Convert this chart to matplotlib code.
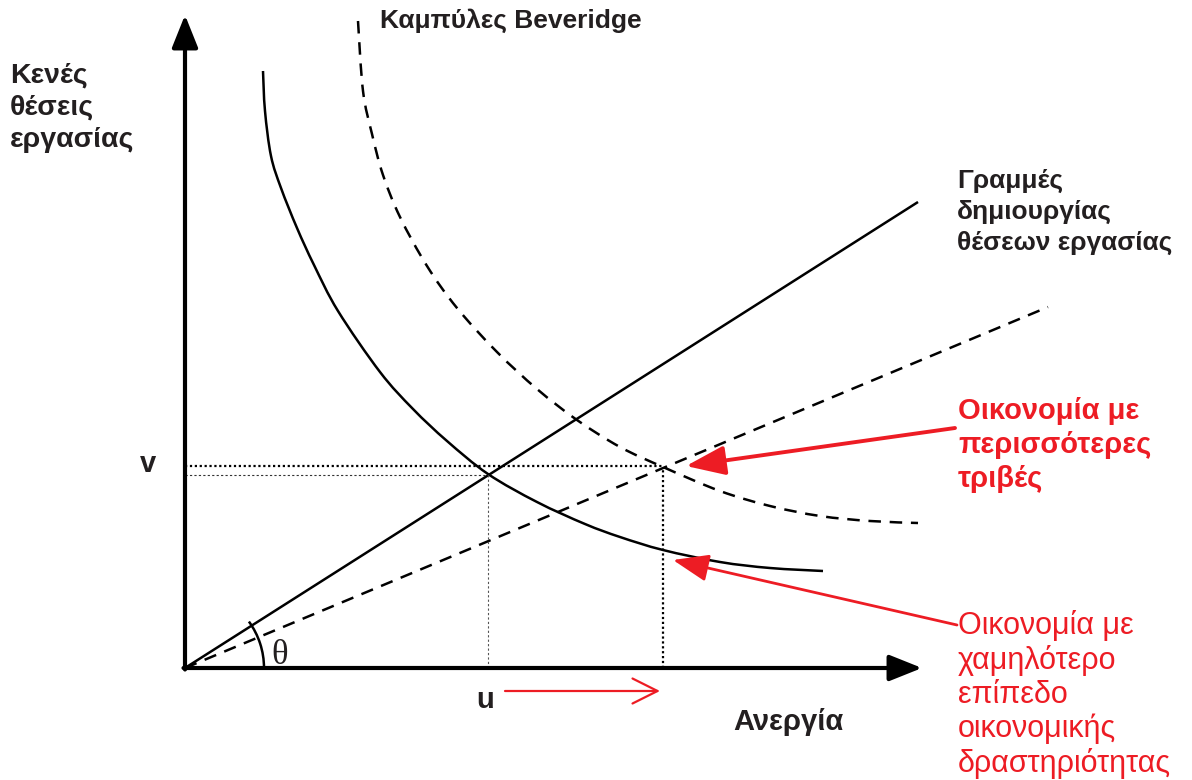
import matplotlib
matplotlib.use("Agg")
import numpy as np
import matplotlib.pyplot as plt
from matplotlib.patches import Arc, PathPatch
from matplotlib.path import Path

# Beveridge curves (unemployment u, vacancies v)
BEV_SOLID_U = [78, 80, 86, 96, 112, 129, 153, 195, 228, 262, 303, 352, 400, 435, 478, 535, 585, 638]
BEV_SOLID_V = [597, 557, 512, 480, 440, 403, 357, 296, 259, 227, 194, 166, 144, 131, 118, 106, 100, 97]

BEV_DASHED_U = [173, 178, 187, 198, 215, 242, 272, 312, 352, 392, 435, 478, 535, 585, 635, 685, 733]
BEV_DASHED_V = [647, 577, 534, 493, 451, 402, 360, 316, 279, 248, 221, 201, 177, 162, 152, 147, 145]

# job creation lines through the origin
JC_SOLID_U = [0, 733]
JC_SOLID_V = [0, 466]
JC_DASHED_U = [0, 863]
JC_DASHED_V = [0, 361]

# equilibria: (solid curve x solid line), (dashed curve x dashed line)
EQ_U = [303, 478]
EQ_V = [193, 201]

AXIS_U_END = 737
AXIS_V_END = 653

BLACK = "#231f20"
RED = "#ed1c24"


def smooth_curve(ax, us, vs, **kw):
    """Draw a smooth (Catmull-Rom) path through the given points."""
    pts = np.column_stack([us, vs]).astype(float)
    n = len(pts)
    verts = [pts[0]]
    codes = [Path.MOVETO]
    for i in range(n - 1):
        p0 = pts[max(i - 1, 0)]
        p1 = pts[i]
        p2 = pts[i + 1]
        p3 = pts[min(i + 2, n - 1)]
        verts += [p1 + (p2 - p0) / 6, p2 - (p3 - p1) / 6, p2]
        codes += [Path.CURVE4] * 3
    ax.add_patch(PathPatch(Path(verts, codes), fill=False, **kw))


plt.rcParams["font.family"] = ["Liberation Sans", "DejaVu Sans"]

fig = plt.figure(figsize=(11.92, 7.8), dpi=100)
ax = fig.add_axes([0, 0, 1, 1])
ax.set_xlim(-185, 1007)
ax.set_ylim(-112, 668)
ax.axis("off")

# axes with arrow heads
axis_arrow = dict(arrowstyle="-|>,head_length=1.0,head_width=0.4", color="black",
                  lw=3.0, shrinkA=0, shrinkB=0, mutation_scale=20)
ax.annotate("", xy=(0, AXIS_V_END), xytext=(0, -1.5), arrowprops=axis_arrow)
ax.annotate("", xy=(AXIS_U_END, 0), xytext=(-1.5, 0), arrowprops=axis_arrow)

# job creation lines
ax.plot(JC_SOLID_U, JC_SOLID_V, color="black", lw=1.8, solid_capstyle="butt")
ax.plot(JC_DASHED_U, JC_DASHED_V, color="black", lw=1.8, linestyle=(0, (5, 3.5)))

# Beveridge curves
smooth_curve(ax, BEV_SOLID_U, BEV_SOLID_V, edgecolor="black", lw=1.8)
smooth_curve(ax, BEV_DASHED_U, BEV_DASHED_V, edgecolor="black", lw=1.8,
             linestyle=(0, (5, 3.5)))

# guide lines to the axes
ax.plot([0, EQ_U[0]], [EQ_V[0], EQ_V[0]], color="#333333", lw=0.8, linestyle=(0, (2, 2)))
ax.plot([EQ_U[0], EQ_U[0]], [0, EQ_V[0]], color="#555555", lw=0.8, linestyle=(0, (2, 2)))
ax.plot([0, EQ_U[1]], [EQ_V[1] + 1, EQ_V[1] + 1], color="black", lw=1.6, linestyle=(0, (1, 1.2)))
ax.plot([EQ_U[1], EQ_U[1]], [0, EQ_V[1]], color="black", lw=1.6, linestyle=(0, (1, 1.2)))

# theta angle
ax.add_patch(Arc((0, 0), 158, 158, theta1=0, theta2=36, color="black", lw=1.8))
ax.text(95, 12, "θ", family=["Liberation Serif", "DejaVu Serif"], fontsize=25,
        color=BLACK, ha="center", va="center")

# red arrows
ax.annotate("", xy=(501, 202), xytext=(770, 240),
            arrowprops=dict(arrowstyle="-|>,head_length=1.2,head_width=0.45", color=RED,
                            lw=2.8, shrinkA=0, shrinkB=0, mutation_scale=20))
ax.annotate("", xy=(488, 108), xytext=(772, 43),
            arrowprops=dict(arrowstyle="-|>,head_length=1.1,head_width=0.42", color=RED,
                            lw=2.0, shrinkA=0, shrinkB=0, mutation_scale=20))
ax.annotate("", xy=(475, -23), xytext=(320, -23),
            arrowprops=dict(arrowstyle="->,head_length=0.9,head_width=0.45", color=RED,
                            lw=1.6, shrinkA=0, shrinkB=0, mutation_scale=20))

# labels
bold = dict(fontweight="bold", color=BLACK)
ax.text(195, 647, "Καμπύλες Beveridge", fontsize=19, ha="left", va="center", **bold)
ax.text(-175, 606, "Κενές\nθέσεις\nεργασίας", fontsize=20.5, ha="left", va="top",
        linespacing=1.33, **bold)
ax.text(772, 499, "Γραμμές\nδημιουργίας\nθέσεων εργασίας", fontsize=19, ha="left",
        va="top", linespacing=1.37, **bold)
ax.text(-37, 204, "v", fontsize=21, ha="center", va="center", **bold)
ax.text(300, -32, "u", fontsize=21, ha="center", va="center", **bold)
ax.text(603, -54, "Ανεργία", fontsize=21, ha="center", va="center", **bold)

ax.text(773, 271, "Οικονομία με\nπερισσότερες\nτριβές", fontsize=21, fontweight="bold",
        color=RED, ha="left", va="top", linespacing=1.27)
ax.text(773, 58, "Οικονομία με\nχαμηλότερο\nεπίπεδο\nοικονομικής\nδραστηριότητας",
        fontsize=22, color=RED, ha="left", va="top", linespacing=1.165)

fig.savefig("out.png", dpi=100)
